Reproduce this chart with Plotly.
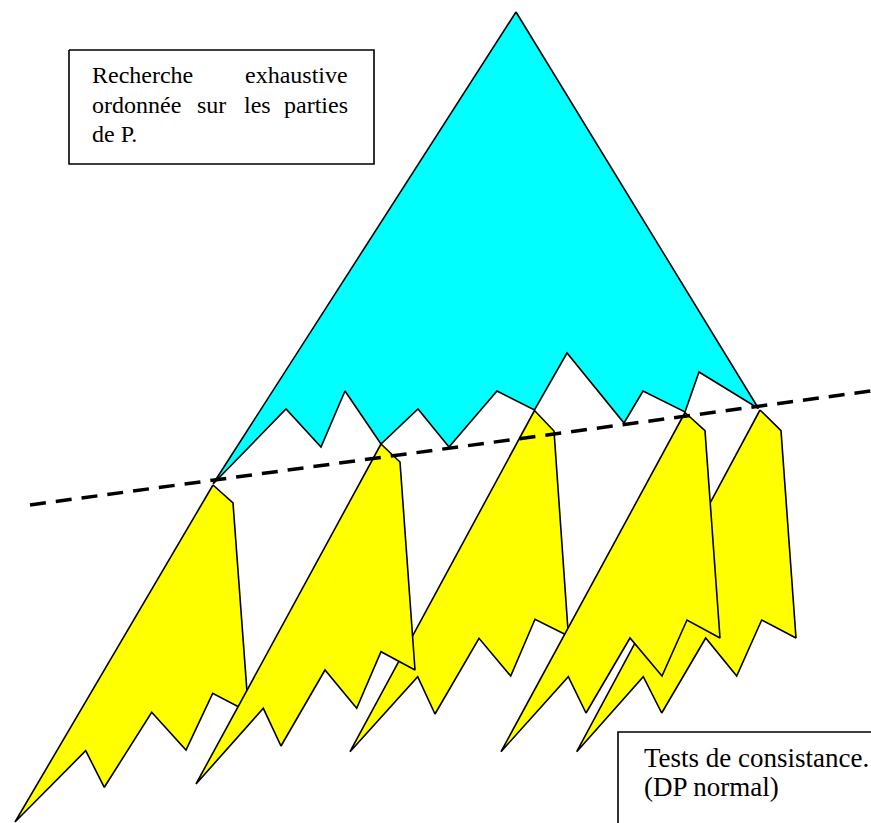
import plotly.graph_objects as go

W, H = 871, 823

# ---- data: polygon vertices (picture pixel coordinates) ----
cyan_x = [516, 758.5, 699, 685, 643, 624, 567, 534.5, 497, 449, 418, 381, 345, 321, 286, 213]
cyan_y = [12, 408.5, 372, 412, 391, 423, 353, 410, 391, 447, 409, 444, 391, 447, 409, 484]

y1_x = [213, 233, 248.5, 212.7, 186, 151.7, 104.3, 85.7, 15]
y1_y = [485, 503, 712, 693.3, 750, 712.3, 787.3, 750.7, 822]

y2_x = [381, 400, 415, 381, 356.7, 325, 281, 263.3, 196]
y2_y = [444, 462, 670, 651.7, 708.3, 670, 746, 708.3, 784]

y3_x = [534.5, 554, 568.4, 535, 510.7, 479, 435, 417.7, 350]
y3_y = [410.5, 431, 636, 619.3, 676, 638.3, 714, 676.7, 751.7]

y4_x = [685, 705, 720, 687, 662, 630, 586, 568.3, 501]
y4_y = [412.5, 430.7, 638, 620, 676, 638, 713, 676.7, 751.7]

y5_x = [760, 781, 796, 761.7, 736.7, 705.7, 661.7, 643.3, 576.7]
y5_y = [410, 430.7, 638, 620, 676, 638, 713, 676.7, 751.7]

dash_x = [30, 871]
dash_y = [505, 391]

box1_x = [69, 374, 374, 69, 69]
box1_y = [50, 50, 164, 164, 50]
box2_x = [618, 618, 871]
box2_y = [823, 732, 732]

# words of box 1 (justified lines) and box 2 lines
box1_words = ["Recherche", "exhaustive", "ordonnée", "sur", "les", "parties", "de P."]
box1_wx = [89.5, 350, 89.5, 195, 242, 350, 89.5]
box1_wy = [84.5, 84.5, 114.5, 114.5, 114.5, 114.5, 143.5]
box1_anchor = ["left", "right", "left", "left", "left", "right", "left"]

box2_lines = ["Tests de consistance.", "(DP normal)"]
box2_lx = [641.5, 641.5]
box2_ly = [768.3, 797.3]

FONT = "Liberation Serif, Times New Roman, serif"
FS1 = 24
FS2 = 27

fig = go.Figure()

def poly(xs, ys, color):
    fig.add_trace(go.Scatter(
        x=xs + [xs[0]], y=ys + [ys[0]], mode="lines", fill="toself",
        fillcolor=color, line=dict(color="black", width=1.6),
        hoverinfo="skip", showlegend=False))

poly(cyan_x, cyan_y, "#00FFFF")
# drawing order follows overlaps seen in the picture
poly(y1_x, y1_y, "#FFFF00")
poly(y3_x, y3_y, "#FFFF00")
poly(y5_x, y5_y, "#FFFF00")
poly(y2_x, y2_y, "#FFFF00")
poly(y4_x, y4_y, "#FFFF00")

fig.add_trace(go.Scatter(
    x=dash_x, y=dash_y, mode="lines",
    line=dict(color="black", width=3.5, dash="16px,10px"),
    hoverinfo="skip", showlegend=False))

fig.add_trace(go.Scatter(
    x=box1_x, y=box1_y, mode="lines", line=dict(color="black", width=1.6),
    hoverinfo="skip", showlegend=False))
fig.add_trace(go.Scatter(
    x=box2_x, y=box2_y, mode="lines", line=dict(color="black", width=1.6),
    hoverinfo="skip", showlegend=False))

annotations = []
for w, x, y, a in zip(box1_words, box1_wx, box1_wy, box1_anchor):
    annotations.append(dict(x=x, y=y, xref="x", yref="y", text=w, showarrow=False,
                            xanchor=a, yanchor="bottom", yshift=-5.3,
                            font=dict(family=FONT, size=FS1, color="black")))
for t, x, y in zip(box2_lines, box2_lx, box2_ly):
    annotations.append(dict(x=x, y=y, xref="x", yref="y", text=t, showarrow=False,
                            xanchor="left", yanchor="bottom", yshift=-6.3,
                            font=dict(family=FONT, size=FS2, color="black")))

fig.update_layout(
    width=W, height=H, margin=dict(l=0, r=0, t=0, b=0),
    paper_bgcolor="white", plot_bgcolor="white",
    xaxis=dict(range=[0, W], visible=False, fixedrange=True),
    yaxis=dict(range=[H, 0], visible=False, fixedrange=True),
    annotations=annotations,
)

fig.write_html(
    "out.html",
    config={"displayModeBar": False, "staticPlot": True},
    post_script="document.body.style.margin='0';document.body.style.overflow='hidden';",
)
